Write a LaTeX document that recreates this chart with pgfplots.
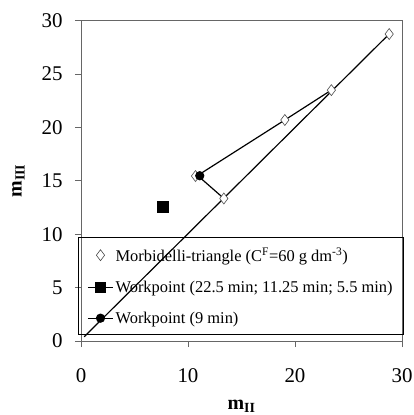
\documentclass[border=0pt]{standalone}
\usepackage{fontspec}
\setmainfont{Liberation Serif}
\usepackage{pgfplots}
\pgfplotsset{compat=1.18}
\begin{document}
\begin{tikzpicture}
\useasboundingbox (-81bp,-74bp) rectangle (333bp,341bp);
\begin{axis}[
  scale only axis,
  width=321bp, height=320.3bp,
  xmin=0, xmax=30, ymin=0, ymax=30,
  xtick={0,10,20,30}, ytick={0,5,10,15,20,25,30},
  tick align=outside, tick pos=left,
  major tick length=6bp,
  axis line style={black!60, line width=0.8pt},
  every tick/.style={black!60, line width=0.8pt},
  /pgf/number format/assume math mode=true,
  tick label style={font=\fontsize{21}{24}\selectfont},
  xticklabel style={yshift=-18bp},
  yticklabel style={xshift=-9bp},
  xlabel={\textbf{m}\textsubscript{\textbf{II}}},
  ylabel={\textbf{m}\textsubscript{\textbf{III}}},
  xlabel style={yshift=-11bp},
  ylabel style={yshift=10bp},
  label style={font=\fontsize{20}{24}\selectfont},
  legend cell align=left,
  legend image code/.code={\draw[mark repeat=2,mark phase=2] plot coordinates {(0bp,0bp)(12.5bp,0bp)(25bp,0bp)};},
  legend style={at={(axis cs:-0.28,0.56)}, anchor=south west, draw=black, fill=none, line width=0.8pt,
    font=\fontsize{16.5}{19}\selectfont, row sep=14bp, inner xsep=9bp, inner ysep=8bp,
    /tikz/every even column/.append style={xshift=4bp}},
  clip=false,
]
\addplot[black, line width=1.2pt, forget plot] coordinates {(0.3,0.4) (28.8,28.75)};
\addplot[black, line width=1.2pt, forget plot] coordinates {(10.9,15.5) (19.05,20.7) (23.4,23.5)};
\addplot[black, line width=1.2pt, forget plot] coordinates {(10.9,15.5) (13.35,13.35)};
\addplot[only marks, mark=diamond*, mark size=5.5bp, mark options={fill=white, draw=black!70, line width=0.6pt}]
  coordinates {(10.7,15.45) (13.35,13.35) (19.05,20.7) (23.4,23.5) (28.8,28.75)};
\addlegendentry{Morbidelli-triangle (C\textsuperscript{F}=60 g dm\textsuperscript{-3})}
\addplot[black, line width=1.2pt, mark=square*, mark size=5bp, mark options={fill=black}]
  coordinates {(7.66,12.55)};
\addlegendentry{Workpoint (22.5 min; 11.25 min; 5.5 min)}
\addplot[black, line width=1.2pt, mark=*, mark size=4bp, mark options={fill=black}]
  coordinates {(11.1,15.48)};
\addlegendentry{Workpoint (9 min)}
\end{axis}
\end{tikzpicture}
\end{document}
